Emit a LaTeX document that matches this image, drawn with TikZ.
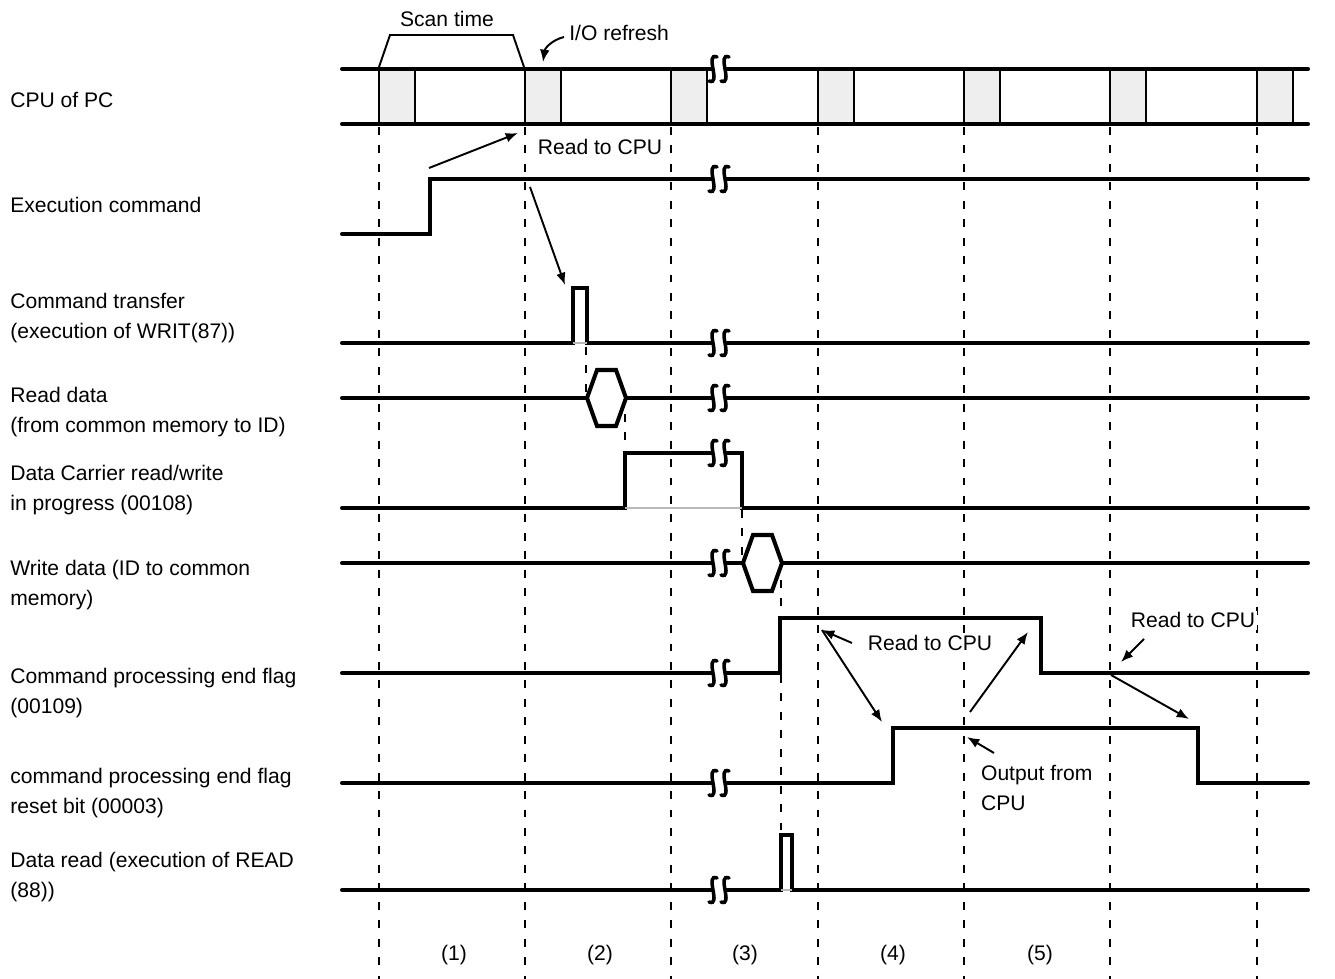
\documentclass[tikz,border=0pt]{standalone}
\usepackage{fontspec}
\setmainfont{Liberation Sans}
\usetikzlibrary{arrows.meta}
\definecolor{refreshgray}{RGB}{238,238,238}
\definecolor{linegray}{RGB}{185,185,185}

\begin{document}
\begin{tikzpicture}[x=0.02cm,y=-0.02cm,
  sig/.style={line width=2.3pt,line cap=round},
  edge/.style={line width=1.4pt},
  grid/.style={line width=1.3pt,dash pattern=on 4.5pt off 6pt},
  faint/.style={linegray,line width=0.6pt},
  arr/.style={-{Latex[length=7pt,width=5.5pt]},line width=1.1pt},
  lbl/.style={font=\fontsize{12}{17.5}\selectfont,inner sep=0pt,align=left,anchor=west},
  note/.style={font=\fontsize{12}{17.5}\selectfont,inner sep=1pt,fill=white,align=left},
  brk/.pic={\fill[white] (-6,-3) rectangle (6,3);
    \foreach \d in {-6,6} \draw[line width=2pt,line cap=round] (\d+4,-12) .. controls (\d-9,-17) and (\d+9,17) .. (\d-4,12);}
]
\useasboundingbox (0,0) rectangle (1335,979);
\foreach \x in {379,525,671,818,964,1110,1257} \draw[grid] (\x,127) -- (\x,979);
\draw[grid] (586,347) -- (586,396) (625,414) -- (625,453) (742,510) -- (742,560) (781,580) -- (781,618) (781,675) -- (781,835);
\foreach \x in {379,525,671,818,964,1110,1257} {
  \fill[refreshgray] (\x,69) rectangle ++(36,55);
  \draw[edge] (\x,69) -- ++(0,55) (\x+36,69) -- ++(0,55);
}
\draw[sig] (342,69) -- (1308,69) (342,124) -- (1308,124);
\draw[line width=1.1pt] (379,67) -- (390,35) -- (513,35) -- (524,67);
\node[note,fill=none] (scan) at (447,19) {Scan time};
\node[lbl] (refresh) at (569,33) {I/O refresh};
\coordinate (refreshtail) at (564,37);
\coordinate (refreshtip) at (543,62);
\draw[arr] (refreshtail) .. controls (552,40) and (545,48) .. (refreshtip);

\node[lbl] (cpu) at (10,100) {CPU of PC};
\node[lbl] (exec) at (10,205) {Execution command};
\node[lbl] (cmd) at (10,318) {Command transfer\\(execution of WRIT(87))};
\node[lbl] (rdata) at (10,412) {Read data\\(from common memory to ID)};
\node[lbl] (carrier) at (10,490) {Data Carrier read/write\\in progress (00108)};
\node[lbl] (wdata) at (10,585) {Write data (ID to common\\memory)};
\node[lbl] (endflag) at (10,693) {Command processing end flag\\(00109)};
\node[lbl] (resetbit) at (10,793) {command processing end flag\\reset bit (00003)};
\node[lbl] (dread) at (10,877) {Data read (execution of READ\\(88))};

\draw[sig] (342,234) -| (430,179) -- (1308,179);
\draw[sig] (342,343) -| (573,288) -| (587,343) -- (1308,343);
\draw[faint] (573,343) -- (587,343);
\draw[sig] (342,398) -- (587,398) (626,398) -- (1308,398);
\draw[sig] (587,398) -- (597,370) -- (616,370) -- (626,398) -- (616,426) -- (597,426) -- cycle;
\draw[sig] (342,508) -| (625,453) -- (742,453) |- (1308,508);
\draw[faint] (625,508) -- (742,508);
\draw[sig] (342,563) -- (743,563) (782,563) -- (1308,563);
\draw[sig] (743,563) -- (753,535) -- (772,535) -- (782,563) -- (772,591) -- (753,591) -- cycle;
\draw[sig] (342,673) -| (780,618) -| (1041,673) -- (1308,673);
\draw[sig] (342,783) -| (893,728) -| (1198,783) -- (1308,783);
\draw[sig] (342,890) -| (781,835) -| (792,890) -- (1308,890);
\draw[faint] (781,890) -- (792,890);
\foreach \y in {69,179,343,398,453,563,673,783,890} \pic at (719,\y) {brk};

\node[note] (readcpu) at (600,147) {Read to CPU};
\coordinate (execrise) at (429,168);
\coordinate (readin) at (518,133);
\coordinate (exechigh) at (530,187);
\coordinate (cmdpulse) at (565,285);
\draw[arr] (execrise) -- (readin);
\draw[arr] (exechigh) -- (cmdpulse);

\node[note] (readcpub) at (930,643) {Read to CPU};
\node[note] (readcpuc) at (1193,620) {Read to CPU};
\node[note,anchor=west] (outcpu) at (979,788) {Output from\\CPU};
\coordinate (flagread) at (822,630);
\coordinate (flagtail) at (852,643);
\coordinate (resetrise) at (882,722);
\coordinate (resetout) at (970,712);
\coordinate (flagfall) at (1028,632);
\coordinate (outtail) at (994,753);
\coordinate (outtip) at (967,737);
\coordinate (readctail) at (1144,639);
\coordinate (readctip) at (1121,662);
\coordinate (flaglow) at (1111,675);
\coordinate (resetfall) at (1189,719);
\draw[arr] (flagtail) -- (flagread);
\draw[arr] (flagread) -- (resetrise);
\draw[arr] (resetout) -- (flagfall);
\draw[arr] (outtail) -- (outtip);
\draw[arr] (readctail) -- (readctip);
\draw[arr] (flaglow) -- (resetfall);

\foreach \n/\x in {1/454,2/600,3/745,4/893,5/1040} \node[note,fill=none] (period\n) at (\x,955) {(\n)};
\end{tikzpicture}
\end{document}
